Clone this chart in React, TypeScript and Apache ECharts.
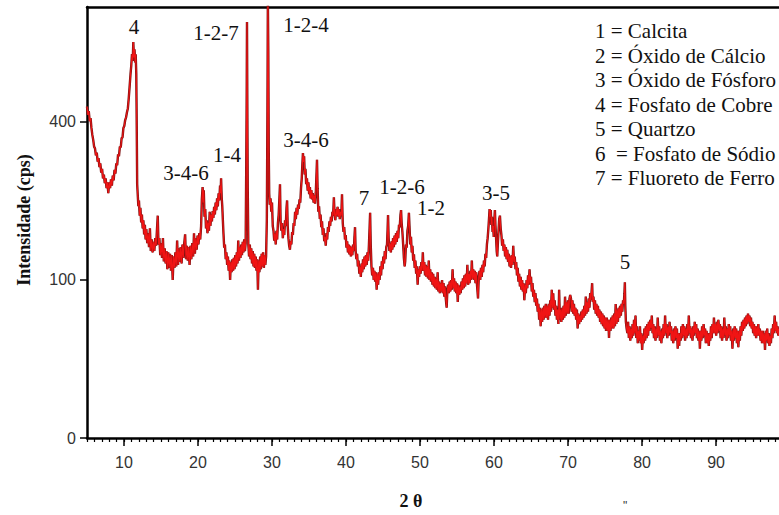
import { useEffect, useRef } from 'react';
import * as echarts from 'echarts';

// ---- axis ticks / texts ----
const xTickValues = [10, 20, 30, 40, 50, 60, 70, 80, 90];
const yTickValues = [0, 100, 400]; // cps, square-root scale
const xMin = 5;
const xMax = 98.51;
const yMaxCps = 744;

const legendLines = [
  '1 = Calcita',
  '2 = Óxido de Cálcio',
  '3 = Óxido de Fósforo',
  '4 = Fosfato de Cobre',
  '5 = Quartzo',
  '6  = Fosfato de Sódio',
  '7 = Fluoreto de Ferro',
];

// peak annotations: [text, 2θ, cps position of label centre]
const peakLabels: [string, number, number][] = [
  ['4', 11.35, 676],
  ['1-2-7', 22.43, 657],
  ['1-2-4', 34.6, 683],
  ['3-4-6', 18.38, 281],
  ['1-4', 23.92, 321],
  ['3-4-6', 34.6, 356],
  ['7', 42.43, 231],
  ['1-2-6', 47.57, 252],
  ['1-2', 51.49, 212],
  ['3-5', 60.27, 240],
  ['5', 77.7, 124],
];

// ---- diffractogram: [2θ, intensity (cps)] ----
const seg05to12: [number, number][] = [
  [5.0, 440], [5.12, 418], [5.24, 428], [5.36, 402], [5.48, 410], [5.6, 385], [5.72, 368], [5.84, 356],
  [5.96, 340], [6.08, 336], [6.2, 320], [6.32, 326], [6.44, 306], [6.56, 314], [6.68, 294], [6.8, 302],
  [6.92, 282], [7.04, 290], [7.16, 270], [7.28, 278], [7.4, 260], [7.52, 270], [7.64, 250], [7.76, 262],
  [7.88, 240], [8.0, 262], [8.12, 250], [8.24, 268], [8.36, 255], [8.48, 276], [8.6, 266], [8.72, 288],
  [8.84, 280], [8.96, 302], [9.08, 298], [9.2, 322], [9.32, 318], [9.44, 340], [9.56, 338], [9.68, 360],
  [9.8, 362], [9.92, 385], [10.04, 390], [10.16, 405], [10.28, 412], [10.4, 425], [10.52, 435], [10.64, 462],
  [10.76, 495], [10.88, 530], [10.98, 555], [11.08, 590], [11.18, 570], [11.26, 628], [11.34, 580], [11.42, 605],
  [11.5, 565], [11.58, 590], [11.66, 530], [11.72, 390], [11.78, 258], [11.86, 236],
];

const seg12to27: [number, number][] = [
  [11.94, 215], [12.02, 226], [12.12, 198], [12.22, 212], [12.32, 186], [12.42, 200], [12.52, 176], [12.62, 190],
  [12.72, 166], [12.82, 182], [12.92, 158], [13.02, 175], [13.14, 152], [13.26, 168], [13.38, 146], [13.5, 176],
  [13.62, 140], [13.74, 158], [13.86, 138], [13.98, 154], [14.1, 140], [14.22, 160], [14.34, 148], [14.46, 175],
  [14.56, 198], [14.66, 150], [14.78, 160], [14.9, 134], [15.02, 152], [15.14, 130], [15.26, 160], [15.38, 125],
  [15.5, 144], [15.62, 122], [15.74, 140], [15.86, 114], [15.98, 138], [16.1, 116], [16.22, 136], [16.34, 112],
  [16.46, 134], [16.58, 100], [16.7, 132], [16.82, 116], [16.94, 138], [17.06, 118], [17.18, 156], [17.3, 120],
  [17.42, 144], [17.54, 124], [17.66, 146], [17.78, 122], [17.9, 150], [18.02, 130], [18.14, 152], [18.26, 166],
  [18.38, 128], [18.5, 148], [18.62, 126], [18.74, 146], [18.86, 120], [18.98, 148], [19.1, 128], [19.22, 152],
  [19.34, 132], [19.46, 168], [19.58, 136], [19.7, 160], [19.82, 142], [19.94, 164], [20.06, 150], [20.18, 168],
  [20.3, 158], [20.42, 180], [20.52, 228], [20.62, 252], [20.7, 222], [20.78, 246], [20.88, 196], [20.98, 210],
  [21.08, 176], [21.18, 190], [21.28, 168], [21.38, 186], [21.48, 172], [21.58, 205], [21.68, 180], [21.78, 200],
  [21.88, 188], [21.98, 206], [22.08, 194], [22.18, 214], [22.28, 200], [22.38, 222], [22.48, 208], [22.58, 230],
  [22.68, 215], [22.78, 240], [22.88, 226], [22.98, 255], [23.06, 240], [23.12, 270], [23.2, 232], [23.28, 215],
  [23.36, 190], [23.44, 168], [23.54, 145], [23.64, 150], [23.74, 128], [23.84, 138], [23.94, 120], [24.04, 132],
  [24.14, 112], [24.24, 126], [24.34, 100], [24.44, 124], [24.54, 110], [24.64, 128], [24.74, 112], [24.84, 130],
  [24.94, 114], [25.04, 134], [25.14, 118], [25.24, 138], [25.34, 122], [25.44, 156], [25.54, 126], [25.64, 146],
  [25.74, 130], [25.84, 150], [25.94, 134], [26.04, 154], [26.14, 138], [26.24, 158], [26.34, 140], [26.44, 152],
  [26.52, 300], [26.58, 480], [26.62, 693], [26.66, 470], [26.72, 250], [26.8, 150],
];

const seg27to40: [number, number][] = [
  [26.9, 132], [27.0, 150], [27.1, 128], [27.2, 144], [27.3, 122], [27.4, 140], [27.5, 118], [27.6, 136],
  [27.7, 116], [27.8, 132], [27.9, 112], [28.0, 128], [28.1, 88], [28.2, 126], [28.3, 110], [28.4, 132],
  [28.5, 114], [28.6, 136], [28.7, 118], [28.8, 138], [28.9, 116], [29.0, 134], [29.1, 120], [29.2, 132],
  [29.3, 190], [29.38, 420], [29.44, 770], [29.5, 600], [29.56, 330], [29.62, 240], [29.7, 218], [29.8, 230],
  [29.9, 205], [30.0, 222], [30.1, 180], [30.2, 172], [30.3, 156], [30.4, 168], [30.5, 150], [30.6, 172],
  [30.7, 158], [30.8, 185], [30.9, 200], [31.0, 230], [31.08, 258], [31.16, 188], [31.26, 172], [31.36, 185],
  [31.46, 160], [31.56, 175], [31.66, 165], [31.76, 190], [31.86, 180], [31.96, 212], [32.04, 226], [32.12, 180],
  [32.22, 160], [32.32, 148], [32.42, 142], [32.52, 155], [32.62, 150], [32.72, 170], [32.82, 165], [32.92, 185],
  [33.02, 180], [33.12, 205], [33.22, 192], [33.32, 212], [33.42, 200], [33.52, 218], [33.62, 210], [33.72, 228],
  [33.82, 222], [33.92, 250], [34.02, 270], [34.1, 300], [34.18, 325], [34.26, 305], [34.34, 318], [34.42, 278],
  [34.52, 290], [34.62, 258], [34.72, 270], [34.82, 245], [34.92, 262], [35.02, 238], [35.12, 252], [35.22, 230],
  [35.32, 246], [35.42, 228], [35.52, 240], [35.62, 222], [35.72, 236], [35.82, 220], [35.92, 242], [36.0, 275],
  [36.08, 310], [36.16, 250], [36.26, 205], [36.36, 215], [36.46, 192], [36.56, 200], [36.66, 178], [36.76, 188],
  [36.86, 165], [36.96, 176], [37.06, 155], [37.16, 162], [37.26, 148], [37.36, 168], [37.46, 158], [37.56, 178],
  [37.66, 170], [37.76, 188], [37.86, 180], [37.96, 196], [38.06, 188], [38.16, 205], [38.26, 198], [38.36, 232],
  [38.46, 200], [38.56, 190], [38.66, 210], [38.76, 198], [38.86, 214], [38.96, 196], [39.06, 210], [39.16, 192],
  [39.26, 205], [39.36, 198], [39.46, 238], [39.56, 185], [39.66, 170], [39.76, 178], [39.86, 158], [39.96, 165],
];

const seg40to58: [number, number][] = [
  [40.06, 145], [40.16, 155], [40.26, 138], [40.36, 150], [40.46, 135], [40.56, 148], [40.66, 132], [40.76, 146],
  [40.86, 134], [40.96, 150], [41.06, 140], [41.14, 162], [41.22, 178], [41.3, 140], [41.4, 128], [41.5, 136],
  [41.6, 118], [41.7, 126], [41.8, 108], [41.9, 118], [42.0, 104], [42.1, 122], [42.2, 110], [42.3, 128],
  [42.4, 114], [42.5, 132], [42.6, 118], [42.7, 134], [42.8, 120], [42.9, 138], [43.0, 126], [43.1, 150],
  [43.2, 182], [43.26, 203], [43.34, 150], [43.44, 118], [43.54, 106], [43.64, 116], [43.74, 100], [43.84, 112],
  [43.94, 98], [44.04, 110], [44.14, 88], [44.24, 108], [44.34, 94], [44.44, 110], [44.54, 100], [44.64, 118],
  [44.74, 106], [44.84, 125], [44.94, 114], [45.04, 132], [45.14, 122], [45.24, 140], [45.34, 128], [45.44, 146],
  [45.54, 150], [45.62, 175], [45.68, 199], [45.76, 160], [45.86, 140], [45.96, 152], [46.06, 138], [46.16, 155],
  [46.26, 142], [46.36, 160], [46.46, 146], [46.56, 164], [46.66, 150], [46.76, 168], [46.86, 154], [46.96, 172],
  [47.06, 160], [47.16, 182], [47.26, 178], [47.36, 200], [47.44, 208], [47.52, 185], [47.62, 170], [47.72, 150],
  [47.82, 130], [47.92, 118], [48.0, 125], [48.1, 150], [48.2, 145], [48.3, 172], [48.4, 180], [48.5, 203],
  [48.58, 180], [48.68, 150], [48.78, 162], [48.88, 138], [48.98, 148], [49.08, 126], [49.18, 135], [49.28, 116],
  [49.38, 126], [49.48, 108], [49.58, 118], [49.68, 94], [49.78, 114], [49.88, 104], [49.98, 118], [50.08, 108],
  [50.18, 124], [50.28, 112], [50.38, 138], [50.48, 112], [50.58, 124], [50.68, 106], [50.78, 120], [50.88, 104],
  [50.98, 118], [51.08, 102], [51.18, 126], [51.28, 100], [51.38, 114], [51.48, 98], [51.58, 110], [51.68, 94],
  [51.78, 108], [51.88, 92], [51.98, 104], [52.08, 90], [52.18, 102], [52.28, 88], [52.38, 110], [52.48, 86],
  [52.58, 98], [52.68, 84], [52.78, 96], [52.88, 86], [52.98, 100], [53.08, 84], [53.18, 96], [53.28, 80],
  [53.38, 92], [53.48, 78], [53.6, 68], [53.7, 88], [53.8, 94], [53.9, 84], [54.0, 98], [54.1, 86],
  [54.2, 100], [54.3, 88], [54.4, 114], [54.5, 90], [54.6, 102], [54.7, 86], [54.8, 98], [54.9, 84],
  [55.0, 96], [55.1, 74], [55.2, 94], [55.3, 82], [55.4, 92], [55.5, 84], [55.6, 98], [55.7, 88],
  [55.8, 102], [55.9, 90], [56.0, 106], [56.1, 92], [56.2, 108], [56.3, 96], [56.4, 120], [56.5, 94],
  [56.6, 108], [56.7, 96], [56.8, 112], [56.9, 100], [57.0, 126], [57.1, 102], [57.2, 114], [57.3, 100],
  [57.4, 112], [57.5, 96], [57.6, 110], [57.7, 94], [57.84, 78], [57.94, 104],
];

const seg58to78: [number, number][] = [
  [58.04, 112], [58.14, 100], [58.24, 116], [58.34, 104], [58.44, 120], [58.54, 110], [58.64, 126], [58.74, 118],
  [58.84, 136], [58.94, 130], [59.04, 150], [59.14, 160], [59.24, 176], [59.32, 192], [59.4, 210], [59.48, 196],
  [59.56, 208], [59.64, 182], [59.72, 196], [59.8, 170], [59.88, 180], [59.96, 162], [60.04, 190], [60.12, 208],
  [60.2, 180], [60.28, 160], [60.36, 140], [60.44, 132], [60.52, 152], [60.6, 170], [60.7, 192], [60.8, 198],
  [60.9, 176], [61.0, 165], [61.1, 148], [61.2, 158], [61.3, 140], [61.4, 150], [61.5, 132], [61.6, 146],
  [61.7, 128], [61.8, 142], [61.9, 124], [62.0, 136], [62.1, 118], [62.2, 132], [62.3, 116], [62.4, 134],
  [62.5, 120], [62.6, 148], [62.7, 124], [62.8, 132], [62.9, 114], [63.0, 124], [63.1, 106], [63.2, 116],
  [63.3, 98], [63.4, 108], [63.5, 92], [63.6, 104], [63.7, 88], [63.8, 100], [63.9, 86], [64.0, 96],
  [64.1, 76], [64.2, 94], [64.3, 84], [64.4, 100], [64.5, 90], [64.6, 106], [64.7, 94], [64.8, 114],
  [64.9, 96], [65.0, 104], [65.1, 86], [65.2, 96], [65.3, 80], [65.4, 88], [65.5, 74], [65.6, 84],
  [65.7, 70], [65.8, 78], [65.9, 64], [66.0, 72], [66.1, 56], [66.2, 68], [66.3, 50], [66.4, 66],
  [66.5, 54], [66.6, 68], [66.7, 56], [66.8, 70], [66.9, 58], [67.0, 72], [67.1, 58], [67.2, 70],
  [67.3, 56], [67.4, 72], [67.5, 60], [67.6, 76], [67.7, 64], [67.8, 88], [67.9, 68], [68.0, 84],
  [68.1, 66], [68.2, 76], [68.3, 60], [68.4, 70], [68.5, 56], [68.6, 66], [68.7, 52], [68.8, 88],
  [68.9, 56], [69.0, 66], [69.1, 54], [69.2, 68], [69.3, 56], [69.4, 70], [69.5, 58], [69.6, 80],
  [69.7, 60], [69.8, 74], [69.9, 62], [70.0, 76], [70.1, 62], [70.2, 78], [70.3, 82], [70.4, 78],
  [70.5, 64], [70.6, 76], [70.7, 62], [70.8, 72], [70.9, 60], [71.0, 68], [71.1, 56], [71.2, 66],
  [71.3, 48], [71.4, 62], [71.5, 52], [71.6, 60], [71.7, 54], [71.8, 64], [71.9, 56], [72.0, 66],
  [72.1, 58], [72.2, 70], [72.3, 60], [72.4, 80], [72.5, 62], [72.6, 74], [72.7, 64], [72.8, 78],
  [72.9, 68], [73.0, 84], [73.1, 76], [73.2, 88], [73.26, 96], [73.34, 74], [73.44, 80], [73.54, 66],
  [73.64, 76], [73.74, 62], [73.84, 72], [73.94, 60], [74.04, 70], [74.14, 58], [74.24, 66], [74.34, 54],
  [74.44, 64], [74.54, 52], [74.64, 62], [74.74, 50], [74.84, 60], [74.94, 48], [75.04, 58], [75.14, 46],
  [75.24, 58], [75.34, 46], [75.44, 56], [75.54, 40], [75.64, 56], [75.74, 46], [75.84, 58], [75.94, 48],
  [76.04, 60], [76.14, 48], [76.24, 62], [76.34, 50], [76.44, 72], [76.54, 52], [76.64, 66], [76.74, 54],
  [76.84, 68], [76.94, 58], [77.04, 70], [77.14, 60], [77.24, 72], [77.34, 64], [77.44, 76], [77.54, 72],
  [77.62, 84], [77.68, 97], [77.74, 70], [77.82, 54], [77.92, 48],
];

const seg78to99: [number, number][] = [
  [78.02, 44], [78.12, 54], [78.22, 40], [78.32, 50], [78.42, 38], [78.52, 48], [78.62, 40], [78.72, 52],
  [78.82, 42], [78.92, 56], [79.02, 44], [79.12, 60], [79.22, 40], [79.32, 50], [79.42, 36], [79.52, 46],
  [79.62, 38], [79.72, 50], [79.82, 36], [79.92, 44], [80.02, 31], [80.12, 42], [80.22, 36], [80.32, 48],
  [80.42, 38], [80.52, 50], [80.62, 40], [80.72, 52], [80.82, 42], [80.92, 54], [81.02, 46], [81.12, 56],
  [81.22, 48], [81.32, 60], [81.42, 44], [81.52, 52], [81.62, 40], [81.72, 50], [81.82, 38], [81.92, 48],
  [82.02, 40], [82.12, 58], [82.22, 42], [82.32, 50], [82.42, 38], [82.52, 46], [82.62, 36], [82.72, 48],
  [82.82, 40], [82.92, 52], [83.02, 42], [83.12, 60], [83.22, 44], [83.32, 52], [83.42, 40], [83.52, 50],
  [83.62, 42], [83.72, 54], [83.82, 44], [83.92, 50], [84.02, 38], [84.12, 46], [84.22, 36], [84.32, 48],
  [84.42, 38], [84.52, 50], [84.62, 40], [84.72, 48], [84.82, 32], [84.92, 44], [85.02, 34], [85.12, 44],
  [85.22, 38], [85.32, 50], [85.42, 40], [85.52, 52], [85.62, 42], [85.72, 50], [85.82, 38], [85.92, 48],
  [86.02, 40], [86.12, 52], [86.22, 42], [86.32, 60], [86.42, 44], [86.52, 50], [86.62, 40], [86.72, 48],
  [86.82, 38], [86.92, 50], [87.02, 42], [87.12, 54], [87.22, 44], [87.32, 52], [87.42, 40], [87.52, 48],
  [87.62, 38], [87.72, 46], [87.82, 32], [87.92, 46], [88.02, 38], [88.12, 50], [88.22, 40], [88.32, 52],
  [88.42, 42], [88.52, 48], [88.62, 36], [88.72, 46], [88.82, 36], [88.92, 44], [89.02, 34], [89.12, 44],
  [89.22, 38], [89.32, 50], [89.42, 40], [89.52, 52], [89.62, 44], [89.72, 58], [89.82, 44], [89.92, 52],
  [90.02, 42], [90.12, 54], [90.22, 44], [90.32, 56], [90.42, 46], [90.52, 52], [90.62, 40], [90.72, 50],
  [90.82, 38], [90.92, 48], [91.02, 40], [91.12, 58], [91.22, 42], [91.32, 50], [91.42, 38], [91.52, 48],
  [91.62, 40], [91.72, 52], [91.82, 42], [91.92, 50], [92.02, 38], [92.12, 46], [92.22, 32], [92.32, 48],
  [92.42, 38], [92.52, 50], [92.62, 40], [92.72, 48], [92.82, 36], [92.92, 46], [93.02, 33], [93.12, 46],
  [93.22, 38], [93.32, 50], [93.42, 42], [93.52, 54], [93.62, 46], [93.72, 56], [93.82, 48], [93.92, 58],
  [94.02, 50], [94.12, 60], [94.22, 52], [94.32, 62], [94.42, 54], [94.52, 60], [94.62, 50], [94.72, 58],
  [94.82, 48], [94.92, 54], [95.02, 44], [95.12, 52], [95.22, 42], [95.32, 50], [95.42, 40], [95.52, 50],
  [95.62, 42], [95.72, 52], [95.82, 42], [95.92, 48], [96.02, 38], [96.12, 46], [96.22, 36], [96.32, 46],
  [96.42, 36], [96.52, 44], [96.62, 31], [96.72, 46], [96.82, 38], [96.92, 48], [97.02, 36], [97.12, 44],
  [97.22, 34], [97.32, 42], [97.42, 36], [97.52, 48], [97.62, 40], [97.72, 52], [97.82, 44], [97.92, 60],
  [98.02, 46], [98.12, 54], [98.22, 44], [98.32, 50], [98.42, 42], [98.52, 48],
];

export default function App() {
  const ref = useRef<HTMLDivElement>(null);

  useEffect(() => {
    document.body.style.margin = '0';
    if (!ref.current) return;
    const chart = echarts.init(ref.current, null, { renderer: 'svg' });

    const pattern = [...seg05to12, ...seg12to27, ...seg27to40, ...seg40to58, ...seg58to78, ...seg78to99]
      .map(([a, c]) => [a, Math.sqrt(c)]);
    const ySqrtMax = Math.sqrt(yMaxCps);
    const minorTicks: number[] = [];
    for (let v = 5; v <= 98; v++) minorTicks.push(v);

    const sansFont = '"Liberation Sans", Arial, sans-serif';
    const serifFont = '"Liberation Serif", "Times New Roman", serif';

    const gridBox = { left: 87, right: 0, top: 7, bottom: 77, outerBoundsMode: 'none' };

    chart.setOption({
      animation: false,
      backgroundColor: '#ffffff',
      grid: [gridBox, gridBox],
      xAxis: [
        {
          type: 'value', gridIndex: 0, position: 'bottom', min: xMin, max: xMax,
          splitLine: { show: false },
          axisLine: { show: true, lineStyle: { color: '#000', width: 2.5 } },
          axisTick: { show: true, customValues: xTickValues, length: 8, lineStyle: { color: '#000', width: 1.5 } },
          axisLabel: {
            show: true, customValues: xTickValues, fontSize: 16, color: '#333', margin: 16,
            fontFamily: sansFont,
          },
        },
        {
          type: 'value', gridIndex: 0, position: 'top', min: xMin, max: xMax,
          splitLine: { show: false },
          axisLine: { show: true, lineStyle: { color: '#000', width: 2.5 } },
          axisTick: { show: false },
          axisLabel: { show: false },
        },
        {
          type: 'value', gridIndex: 1, position: 'bottom', min: xMin, max: xMax,
          splitLine: { show: false },
          axisLine: { show: false },
          axisTick: { show: true, customValues: minorTicks, length: 4, lineStyle: { color: '#000', width: 1.2 } },
          axisLabel: { show: false },
        },
      ],
      yAxis: [
        {
          type: 'value', gridIndex: 0, position: 'left', min: 0, max: ySqrtMax,
          splitLine: { show: false },
          axisLine: { show: true, lineStyle: { color: '#000', width: 2.5 } },
          axisTick: {
            show: true, customValues: yTickValues.map((v) => Math.sqrt(v)), length: 7,
            lineStyle: { color: '#000', width: 1.5 },
          },
          axisLabel: {
            show: true, customValues: yTickValues.map((v) => Math.sqrt(v)), fontSize: 16, color: '#333',
            margin: 11, fontFamily: sansFont,
            formatter: (v: number) => String(Math.round(v * v)),
          },
        },
        {
          type: 'value', gridIndex: 1, min: 0, max: ySqrtMax, show: false,
        },
      ],
      series: [
        {
          type: 'line', xAxisIndex: 0, yAxisIndex: 0, data: pattern, showSymbol: false, symbol: 'none',
          lineStyle: { color: '#7d1212', width: 2.4 }, silent: true, z: 2,
        },
        {
          type: 'line', xAxisIndex: 0, yAxisIndex: 0, data: pattern, showSymbol: false, symbol: 'none',
          lineStyle: { color: '#f01414', width: 1.1 }, silent: true, z: 3,
          markPoint: {
            symbol: 'circle', symbolSize: 0, silent: true,
            itemStyle: { color: 'transparent' },
            label: {
              show: true, position: 'inside', color: '#111', fontSize: 21, fontFamily: serifFont,
              formatter: (p: any) => p.name,
            },
            data: peakLabels.map(([t, a, c]) => ({ name: t, coord: [a, Math.sqrt(c)] })),
          },
        },
      ],
      graphic: [
        {
          type: 'text', left: 595, top: 19, z: 10,
          style: {
            text: legendLines.join('\n'), font: `21px ${serifFont}`, fill: '#111', lineHeight: 24.5,
          },
        },
        {
          type: 'text', x: 24, y: 220, rotation: Math.PI / 2, z: 10,
          style: {
            text: 'Intensidade (cps)', font: `bold 18px ${serifFont}`, fill: '#111',
            textAlign: 'center', textVerticalAlign: 'middle',
          },
        },
        {
          type: 'text', x: 411, y: 501, z: 10,
          style: {
            text: '2 θ', font: `bold 18px ${serifFont}`, fill: '#111',
            textAlign: 'center', textVerticalAlign: 'middle',
          },
        },
        {
          type: 'text', x: 625, y: 500, z: 10,
          style: { text: '"', font: `12px ${sansFont}`, fill: '#333', textAlign: 'center' },
        },
      ],
    });

    return () => chart.dispose();
  }, []);

  return <div ref={ref} style={{ width: 779, height: 515 }} />;
}
